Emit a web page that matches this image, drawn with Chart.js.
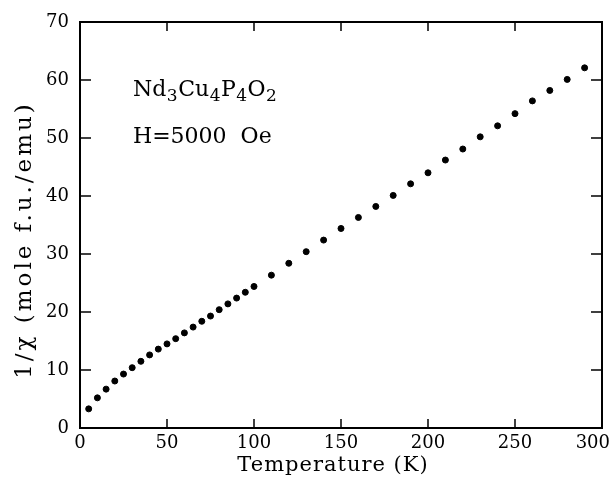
<!DOCTYPE html>
<html>
<head>
<meta charset="utf-8">
<script src="https://cdn.jsdelivr.net/npm/chart.js@4"></script>
<style>
  body { margin: 0; background: #fff; }
</style>
</head>
<body>
<canvas id="myChart" width="612" height="480"></canvas>
<script>
const ctx = document.getElementById("myChart");

// temperature (K) and 1/chi
let temps = [5, 10, 15, 20, 25, 30, 35, 40, 45, 50, 55, 60, 65, 70, 75, 80, 85, 90, 95, 100,
    110, 120, 130, 140, 150, 160, 170, 180, 190, 200, 210, 220, 230, 240, 250, 260, 270, 280, 290];
let invChi = [3.3, 5.2, 6.7, 8.1, 9.3, 10.4, 11.5, 12.6, 13.6, 14.5, 15.4, 16.4, 17.4, 18.4, 19.3, 20.4, 21.4, 22.4, 23.4, 24.4,
    26.35, 28.4, 30.4, 32.4, 34.4, 36.3, 38.2, 40.1, 42.1, 44.0, 46.2, 48.1, 50.2, 52.1, 54.2, 56.4, 58.2, 60.1, 62.1];

let xTicks = [0, 50, 100, 150, 200, 250, 300];
let yTicks = [0, 10, 20, 30, 40, 50, 60, 70];

const fontFam = "'DejaVu Serif', serif";

function txt(c, text, x, y, gap) {
    c.letterSpacing = (gap || 0) + "px";
    c.fillText(text, x, y);
    c.letterSpacing = "0px";
}

// frame, inward ticks, tick labels, titles and the compound label
const framePlugin = {
    id: "frame",
    afterDraw(chart) {
        const c = chart.ctx;
        const a = chart.chartArea;
        const xs = chart.scales.x, ys = chart.scales.y;
        c.save();
        c.strokeStyle = "#000";
        c.lineWidth = 2;
        c.strokeRect(a.left, a.top, a.right - a.left, a.bottom - a.top);
        c.lineWidth = 1.5;
        c.beginPath();
        xTicks.forEach(v => {
            let px = xs.getPixelForValue(v);
            c.moveTo(px, a.bottom); c.lineTo(px, a.bottom - 9);
            c.moveTo(px, a.top); c.lineTo(px, a.top + 9);
        });
        yTicks.forEach(v => {
            let py = ys.getPixelForValue(v);
            c.moveTo(a.left, py); c.lineTo(a.left + 11, py);
            c.moveTo(a.right, py); c.lineTo(a.right - 11, py);
        });
        c.stroke();

        c.fillStyle = "#000";
        // x tick labels (the last one is kept inside the page)
        c.font = "18px " + fontFam;
        c.textBaseline = "top";
        xTicks.forEach(v => {
            let px = xs.getPixelForValue(v);
            c.textAlign = "center";
            if (v === 300) { c.textAlign = "right"; px = 610; }
            txt(c, String(v), px, a.bottom + 6);
        });
        // y tick labels
        c.textAlign = "right";
        c.textBaseline = "middle";
        yTicks.forEach(v => {
            txt(c, String(v), a.left - 11, ys.getPixelForValue(v));
        });

        // axis titles
        c.textAlign = "center";
        c.textBaseline = "middle";
        c.font = "21px " + fontFam;
        txt(c, "Temperature (K)", 333, 466, 1);
        c.save();
        c.translate(25, 240);
        c.rotate(-Math.PI / 2);
        c.font = "23px " + fontFam;
        txt(c, "1/\u03c7 (mole f.u./emu)", 0, 0, 3);
        c.restore();

        // Nd3Cu4P4O2 with subscripts
        c.textAlign = "left";
        c.textBaseline = "alphabetic";
        let x = 133, y = 96;
        let parts = [["Nd", false], ["3", true], ["Cu", false], ["4", true], ["P", false], ["4", true], ["O", false], ["2", true]];
        parts.forEach(p => {
            c.font = p[1] ? "17px " + fontFam : "22px " + fontFam;
            txt(c, p[0], x, p[1] ? y + 5 : y);
            x += c.measureText(p[0]).width + 0.5;
        });
        c.font = "22px " + fontFam;
        txt(c, "H=5000  Oe", 133, 143);
        c.restore();
    }
};

let chart = new Chart(ctx, {
    type: "scatter",
    data: {
        datasets: [
            {
                data: temps.map((t, i) => ({ x: t, y: invChi[i] })),
                backgroundColor: "#000",
                borderColor: "#000",
                pointRadius: 3,
                pointHoverRadius: 3,
            },
        ],
    },
    options: {
        responsive: false,
        animation: false,
        layout: { padding: { left: 0, right: 10, top: 22, bottom: 0 } },
        scales: {
            x: {
                type: "linear",
                min: 0,
                max: 300,
                afterBuildTicks: (s) => { s.ticks = xTicks.map(v => ({ value: v })); },
                afterFit: (s) => { s.height = 52; s.paddingLeft = 0; s.paddingRight = 0; },
                grid: { display: false },
                border: { display: false },
                ticks: { display: false },
            },
            y: {
                min: 0,
                max: 70,
                afterBuildTicks: (s) => { s.ticks = yTicks.map(v => ({ value: v })); },
                afterFit: (s) => { s.width = 80; s.paddingTop = 0; s.paddingBottom = 0; },
                grid: { display: false },
                border: { display: false },
                ticks: { display: false },
            },
        },
        plugins: {
            legend: { display: false },
            tooltip: { enabled: false },
        },
    },
    plugins: [framePlugin],
});
</script>
</body>
</html>
